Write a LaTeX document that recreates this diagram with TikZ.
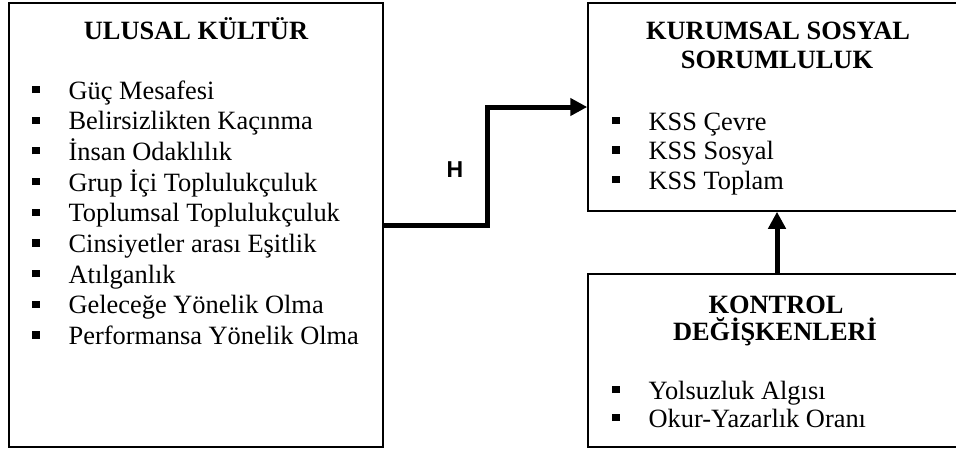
\documentclass[tikz,border=0pt]{standalone}
\usepackage{fontspec}
\setmainfont{Liberation Serif}
\newfontfamily\hsans{Liberation Sans}
\usetikzlibrary{arrows.meta}
\newcommand\mybul{\rule[3pt]{3.6pt}{3.6pt}\hspace{14.5pt}}
\begin{document}
\begin{tikzpicture}[x=0.5pt,y=-0.5pt,
  box/.style={draw,line width=0.75pt,inner sep=0pt,rectangle},
  head/.style={font=\fontsize{13.2}{15}\selectfont\bfseries,inner sep=0pt,anchor=base},
  item/.style={font=\fontsize{13.2}{15}\selectfont,inner sep=0pt,anchor=base west},
  arr/.style={line width=2.5pt,-{Triangle[length=8.5pt,width=8.5pt]},line join=miter},
  lbl/.style={font=\hsans\bfseries\fontsize{11.5}{13}\selectfont,inner sep=0pt}]
\clip (0,0) rectangle (956,451);
% boxes
\node[box,minimum width=187pt,minimum height=222pt] (ul) at (196,225) {};
\node[box,minimum width=189pt,minimum height=104pt] (kss) at (777,107) {};
\node[box,minimum width=189pt,minimum height=86.5pt] (kd) at (777,360.5) {};
% headings
\node[head] (ulh) at (196,39) {ULUSAL KÜLTÜR};
\node[head] (kssh1) at (778,39) {KURUMSAL SOSYAL};
\node[head] (kssh2) at (777,68) {SORUMLULUK};
\node[head] (kdh1) at (776,313) {KONTROL};
\node[head] (kdh2) at (775,340) {DEĞİŞKENLERİ};
% items
\foreach \t [count=\i] in {Güç Mesafesi, Belirsizlikten Kaçınma, İnsan Odaklılık, Grup İçi Toplulukçuluk, Toplumsal Toplulukçuluk, Cinsiyetler arası Eşitlik, Atılganlık, Geleceğe Yönelik Olma, Performansa Yönelik Olma}
  \node[item] (ul\i) at ({32},{99+30.7*(\i-1)}) {\mybul\t};
\node[item] (kss1) at (612,130) {\mybul KSS Çevre};
\node[item] (kss2) at (612,159.5) {\mybul KSS Sosyal};
\node[item] (kss3) at (612,189) {\mybul KSS Toplam};
\node[item] (kd1) at (612,399) {\mybul Yolsuzluk Algısı};
\node[item] (kd2) at (612,427) {\mybul Okur-Yazarlık Oranı};
% connectors
\coordinate (bend) at (487,225);
\draw[arr] (ul.east) -- (bend) |- (kss.west);
\draw[arr] (kd.north) -- (kss.south);
\node[lbl] (h) at (455,170) {H};
\end{tikzpicture}
\end{document}
